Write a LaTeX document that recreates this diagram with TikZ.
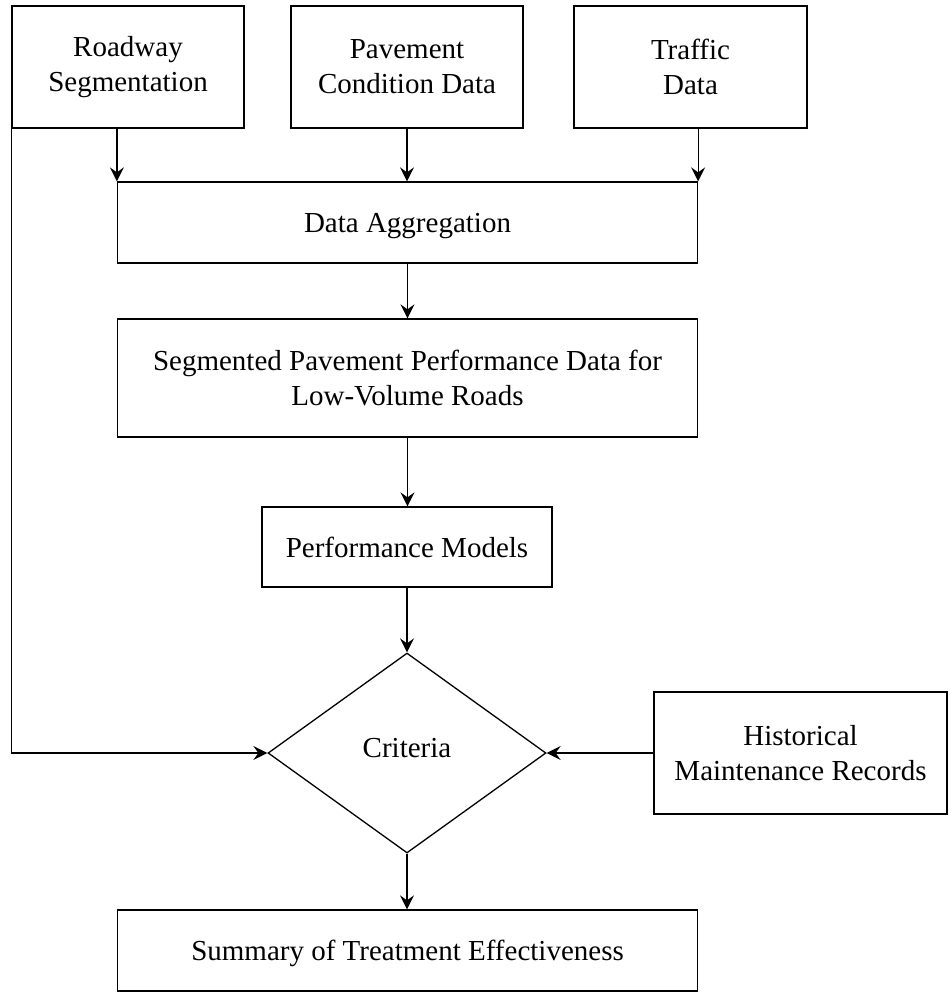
\documentclass[tikz,border=0pt]{standalone}
\usepackage{fontspec}
\setmainfont{Liberation Serif}
\usetikzlibrary{arrows.meta,shapes.geometric}
\begin{document}
\begin{tikzpicture}[x=1pt,y=1pt,
  every node/.style={font=\fontsize{29}{35}\selectfont, align=center, inner sep=0pt},
  boxnode/.style={draw, line width=1.3pt, rectangle},
  oneline/.style={text depth=0pt},
  decision/.style={draw, line width=1.3pt, diamond, minimum width=278pt, minimum height=200pt, text depth=10pt},
  conn/.style={line width=1.3pt, -{Stealth[length=14pt,width=14pt,inset=5pt]}},
  plainline/.style={line width=1.3pt}]
\useasboundingbox (0,0) rectangle (948,-992);
\node[boxnode, minimum width=232pt, minimum height=122pt] (rs) at (128,-67) {Roadway\\Segmentation};
\node[boxnode, minimum width=232pt, minimum height=122pt] (pcd) at (407,-67) {Pavement\\Condition Data};
\node[boxnode, minimum width=233pt, minimum height=122pt] (td) at (690.5,-67) {Traffic\\Data};
\node[boxnode, oneline, minimum width=580pt, minimum height=81pt] (da) at (407.5,-222.5) {Data Aggregation};
\node[boxnode, minimum width=580pt, minimum height=118pt] (sp) at (407.5,-378) {Segmented Pavement Performance Data for\\Low-Volume Roads};
\node[boxnode, oneline, minimum width=290pt, minimum height=80pt] (pm) at (407,-547) {Performance Models};
\node[decision] (cr) at (407,-753) {Criteria};
\node[boxnode, minimum width=293pt, minimum height=122pt] (hmr) at (800.5,-753) {Historical\\Maintenance Records};
\node[boxnode, oneline, minimum width=580pt, minimum height=81pt] (ste) at (407.5,-950.5) {Summary of Treatment Effectiveness};
\draw[conn] (rs.south -| da.north west) -- (da.north west);
\draw[conn] (pcd.south) -- (pcd.south |- da.north);
\draw[conn] (td.south -| da.north east) -- (da.north east);
\draw[conn] (da.south) -- (sp.north);
\draw[conn] (sp.south) -- (sp.south |- pm.north);
\draw[conn] (pm.south) -- (cr.north);
\draw[conn] (cr.south) -- (cr.south |- ste.north);
\draw[conn] (rs.south west) |- (cr.west);
\draw[conn] (hmr.west) -- (cr.east);
\end{tikzpicture}
\end{document}
